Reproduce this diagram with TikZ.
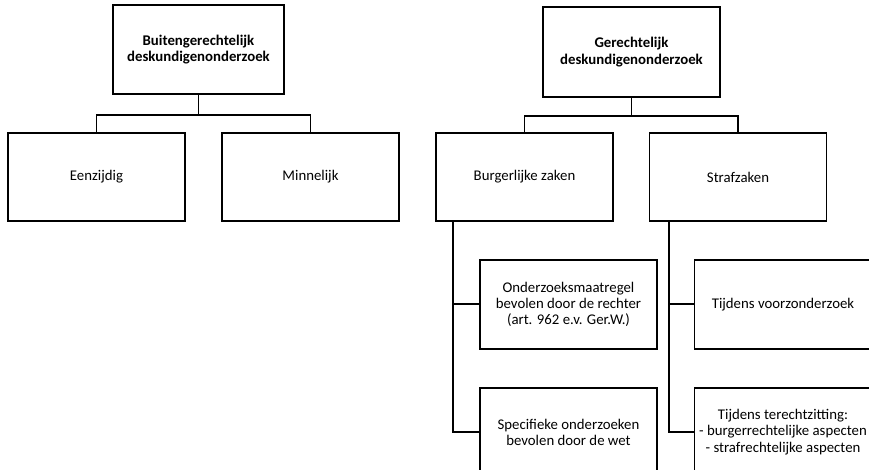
\documentclass[tikz,border=0pt]{standalone}
\usepackage{fontspec}
\setmainfont{Carlito}
\usetikzlibrary{positioning,calc}

\begin{document}
\begin{tikzpicture}[x=1pt, y=-1pt, node distance=37pt, font=\fontsize{14.8}{16.2}\selectfont,
	box/.style={
		draw,
		line width=1.8pt,
		align=center,
		inner sep=0pt,
		minimum width=177pt,
		minimum height=88pt
	},
	rootbox/.style={box, font=\fontsize{14.8}{16.2}\selectfont\bfseries},
	conn/.style={line width=1.8pt}]
		\useasboundingbox (0,0) rectangle (869,470);
		\clip (0,0) rectangle (869,470);
		% roots
		\node[rootbox,minimum width=171pt,minimum height=89pt] (buiten) at (198.5,49.5) {Buitengerechtelijk\\deskundigenonderzoek};
		\node[rootbox,minimum height=90pt]                    (gerecht) at (631.5,52)  {Gerechtelijk\\deskundigenonderzoek};
		% children
		\node[box] (eenz)  at (96.5,177)  {Eenzijdig};
		\node[box] (minn)  at (310.5,177) {Minnelijk};
		\node[box] (burg)  at (524.5,177) {Burgerlijke zaken};
		\node[box] (straf) at (738,177)   {Strafzaken};
		% grandchildren
		\node[box,minimum height=89pt,below=of burg.south west,anchor=north west,xshift=44pt] (onderz)  {Onderzoeksmaatregel\\bevolen door de rechter\\(art. 962 e.v. Ger.W.)};
		\node[box,minimum height=89pt,below=of onderz]                                       (specif)  {Specifieke onderzoeken\\bevolen door de wet};
		\node[box,minimum height=89pt,below=of straf.south west,anchor=north west,xshift=45pt] (voorz)   {Tijdens voorzonderzoek};
		\node[box,minimum height=89pt,below=of voorz]                                        (terecht) {Tijdens terechtzitting:\\- burgerrechtelijke aspecten\\- strafrechtelijke aspecten};

		\draw[conn] (buiten.south) -- ++(0,20.5) coordinate (j1);
		\draw[conn] (eenz.north) |- (j1) -| (minn.north);
		\draw[conn] (gerecht.south) -- ++(0,18) coordinate (j2);
		\draw[conn] (burg.north) |- (j2) -| (straf.north);

		\coordinate (bl) at ($(burg.south west)+(18,0)$);
		\coordinate (sl) at ($(straf.south west)+(20,0)$);
		\draw[conn] (bl) |- (onderz.west);
		\draw[conn] (bl) |- (specif.west);
		\draw[conn] (sl) |- (voorz.west);
		\draw[conn] (sl) |- (terecht.west);
	\end{tikzpicture}
\end{document}
